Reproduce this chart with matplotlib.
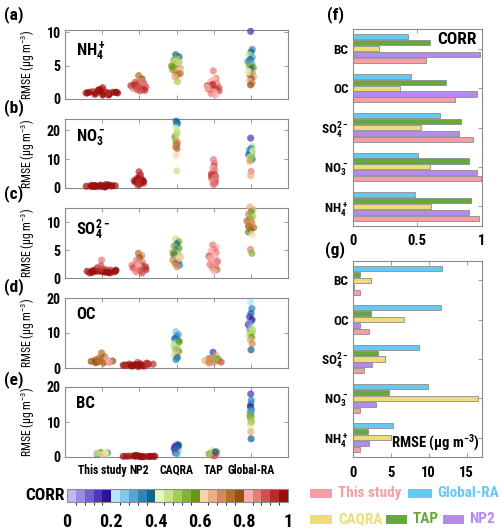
import numpy as np
import matplotlib
matplotlib.use('Agg')
import matplotlib.pyplot as plt
from matplotlib import font_manager as fm
from matplotlib.colors import ListedColormap, BoundaryNorm
from matplotlib.patches import Rectangle
import matplotlib.cm as cm

names = {f.name for f in fm.fontManager.ttflist}
FONT = 'DejaVu Sans'
for cand in ['Liberation Sans Narrow', 'Roboto Condensed', 'Open Sans Condensed',
             'DejaVu Sans Condensed', 'Roboto', 'Liberation Sans']:
    if cand in names:
        FONT = cand
        break
plt.rcParams['font.family'] = [FONT, 'DejaVu Sans']
plt.rcParams['font.weight'] = 'bold'

# ---------------- data ----------------
models = ['This study', 'NP2', 'CAQRA', 'TAP', 'Global-RA']

nh4_rmse = {
    'This study': [0.9, 1.0, 0.8, 1.1, 0.7, 1.2, 0.9, 1.0, 1.3, 0.6, 1.5, 1.0, 0.8, 1.1, 0.9, 1.7, 0.7, 1.0, 1.2, 0.9, 0.8, 1.4, 1.0, 0.6],
    'NP2': [3.5, 3.0, 2.7, 2.5, 2.3, 2.2, 2.0, 2.0, 1.9, 1.8, 1.7, 1.6, 1.5, 1.4, 1.3, 1.2, 2.1, 2.4, 1.8],
    'CAQRA': [6.6, 6.3, 6.0, 5.8, 5.5, 5.2, 5.0, 4.8, 4.7, 4.6, 4.5, 4.4, 4.2, 4.0, 3.8, 3.6, 3.3, 2.6, 5.6, 4.9],
    'TAP': [4.2, 3.1, 2.9, 2.6, 2.4, 2.2, 2.0, 1.9, 1.8, 1.7, 1.6, 1.5, 1.4, 1.3, 1.2, 1.0, 0.8, 0.6, 2.1, 1.7],
    'Global-RA': [10.1, 7.4, 7.0, 6.6, 6.2, 5.9, 5.6, 5.3, 5.0, 4.7, 4.5, 4.2, 3.9, 3.6, 3.3, 3.0, 2.7, 2.4, 2.1, 4.0],
}
nh4_corr = {
    'This study': [0.97, 0.98, 0.96, 0.95, 0.99, 0.97, 0.93, 0.98, 0.96, 0.97, 0.92, 0.99, 0.98, 0.95, 0.97, 0.94, 0.96, 0.98, 0.97, 0.99, 0.93, 0.96, 0.97, 0.98],
    'NP2': [0.72, 0.76, 0.70, 0.90, 0.93, 0.88, 0.92, 0.85, 0.94, 0.90, 0.91, 0.87, 0.93, 0.89, 0.92, 0.88, 0.95, 0.86, 0.91],
    'CAQRA': [0.36, 0.38, 0.48, 0.55, 0.50, 0.58, 0.62, 0.45, 0.57, 0.66, 0.70, 0.55, 0.60, 0.68, 0.72, 0.74, 0.66, 0.48, 0.44, 0.59],
    'TAP': [0.84, 0.86, 0.62, 0.83, 0.85, 0.88, 0.90, 0.82, 0.87, 0.91, 0.84, 0.89, 0.93, 0.86, 0.88, 0.82, 0.85, 0.83, 0.92, 0.81],
    'Global-RA': [0.15, 0.33, 0.38, 0.45, 0.30, 0.36, 0.34, 0.28, 0.52, 0.58, 0.37, 0.62, 0.70, 0.74, 0.66, 0.78, 0.82, 0.69, 0.76, 0.42],
}

no3_rmse = {
    'This study': [0.6, 0.8, 0.5, 0.9, 0.7, 1.0, 0.6, 0.4, 0.8, 1.2, 0.7, 0.5, 0.9, 0.6, 1.1, 0.7, 0.5, 0.8, 0.6, 0.9, 0.4, 0.7],
    'NP2': [5.6, 4.6, 3.8, 3.3, 3.0, 2.8, 2.6, 2.5, 2.4, 2.3, 2.2, 2.1, 2.0, 1.9, 1.7, 1.4, 0.9, 2.5, 2.2],
    'CAQRA': [23.1, 22.4, 21.8, 20.7, 19.6, 18.4, 17.6, 16.7, 16.0, 15.5, 14.9, 14.2, 13.6, 11.3, 5.9, 18.8],
    'TAP': [9.8, 8.5, 7.6, 6.8, 6.2, 5.6, 5.2, 4.8, 4.4, 4.0, 3.7, 3.4, 3.1, 2.8, 2.5, 2.2, 1.9, 1.6, 1.2, 4.6, 3.6],
    'Global-RA': [17.2, 14.3, 13.6, 13.0, 12.5, 12.0, 11.5, 11.0, 10.5, 10.0, 9.6, 9.2, 5.7, 4.2, 12.8, 10.8],
}
no3_corr = {
    'This study': [0.97, 0.98, 0.99, 0.96, 0.98, 0.97, 0.99, 0.98, 0.96, 0.95, 0.98, 0.99, 0.97, 0.98, 0.96, 0.99, 0.98, 0.97, 0.99, 0.96, 0.98, 0.97],
    'NP2': [0.92, 0.95, 0.93, 0.96, 0.94, 0.97, 0.95, 0.93, 0.96, 0.98, 0.94, 0.97, 0.95, 0.96, 0.93, 0.97, 0.94, 0.98, 0.95],
    'CAQRA': [0.36, 0.38, 0.33, 0.42, 0.46, 0.50, 0.58, 0.62, 0.55, 0.70, 0.72, 0.68, 0.74, 0.60, 0.47, 0.44],
    'TAP': [0.86, 0.84, 0.88, 0.83, 0.87, 0.85, 0.82, 0.89, 0.84, 0.90, 0.86, 0.88, 0.92, 0.85, 0.87, 0.91, 0.83, 0.89, 0.86, 0.93, 0.84],
    'Global-RA': [0.15, 0.44, 0.35, 0.32, 0.38, 0.28, 0.36, 0.55, 0.62, 0.34, 0.58, 0.66, 0.85, 0.64, 0.42, 0.50],
}

so4_rmse = {
    'This study': [1.2, 1.3, 1.1, 1.0, 1.4, 1.2, 0.9, 1.5, 1.3, 1.1, 1.2, 1.8, 1.0, 3.2, 1.4, 1.1, 1.3, 0.9, 1.6, 1.2, 1.0, 2.2],
    'NP2': [4.4, 4.0, 3.6, 3.2, 2.8, 2.5, 2.3, 2.2, 2.1, 2.0, 1.9, 1.8, 1.7, 1.6, 1.5, 1.3, 1.1, 0.9, 2.4],
    'CAQRA': [7.0, 6.5, 6.1, 5.7, 5.3, 5.0, 4.7, 4.4, 4.1, 3.8, 3.5, 3.2, 2.9, 2.6, 2.3, 2.0, 4.5, 3.6],
    'TAP': [5.9, 5.5, 5.1, 4.8, 4.5, 4.2, 3.9, 3.6, 3.3, 3.0, 2.7, 2.4, 2.1, 1.8, 1.5, 1.2, 3.5, 2.8],
    'Global-RA': [12.7, 12.2, 11.8, 11.4, 11.0, 10.6, 10.2, 9.8, 9.4, 9.0, 8.6, 8.2, 7.8, 5.1, 4.4, 10.0, 9.2],
}
so4_corr = {
    'This study': [0.97, 0.98, 0.96, 0.99, 0.95, 0.97, 0.98, 0.93, 0.96, 0.99, 0.97, 0.94, 0.98, 0.84, 0.96, 0.99, 0.97, 0.98, 0.92, 0.97, 0.99, 0.90],
    'NP2': [0.72, 0.68, 0.76, 0.86, 0.84, 0.90, 0.87, 0.92, 0.85, 0.94, 0.83, 0.89, 0.91, 0.86, 0.93, 0.88, 0.84, 0.90, 0.82],
    'CAQRA': [0.47, 0.52, 0.38, 0.55, 0.58, 0.34, 0.62, 0.50, 0.36, 0.66, 0.45, 0.70, 0.74, 0.72, 0.35, 0.68, 0.56, 0.60],
    'TAP': [0.84, 0.82, 0.86, 0.81, 0.85, 0.83, 0.88, 0.82, 0.84, 0.86, 0.81, 0.87, 0.83, 0.85, 0.74, 0.82, 0.80, 0.84],
    'Global-RA': [0.64, 0.66, 0.58, 0.70, 0.48, 0.52, 0.72, 0.65, 0.68, 0.74, 0.76, 0.56, 0.62, 0.86, 0.54, 0.71, 0.73],
}

oc_rmse = {
    'This study': [4.3, 3.2, 2.6, 2.3, 2.1, 2.0, 1.9, 1.8, 1.7, 1.6, 2.2, 1.5, 2.4, 1.9, 2.0, 1.4, 2.8, 1.8, 2.1],
    'NP2': [1.6, 1.4, 1.2, 1.1, 1.0, 0.9, 0.8, 0.7, 0.6, 1.3, 1.0, 0.8, 0.5, 0.9, 1.1, 0.7, 0.6, 1.2, 0.4, 0.8],
    'CAQRA': [10.4, 9.6, 9.0, 8.4, 7.8, 7.2, 6.6, 6.0, 5.4, 4.8, 4.2, 3.6, 3.0, 2.4, 7.5, 5.7],
    'TAP': [4.5, 3.5, 3.0, 2.7, 2.5, 2.3, 2.1, 2.0, 1.9, 1.8, 1.6, 1.4, 2.2, 2.6, 1.7],
    'Global-RA': [18.8, 17.0, 15.6, 14.6, 13.8, 13.0, 12.4, 11.8, 11.2, 10.6, 10.0, 9.4, 8.8, 8.0, 7.0, 5.2, 12.8, 11.0],
}
oc_corr = {
    'This study': [0.74, 0.72, 0.76, 0.78, 0.70, 0.75, 0.77, 0.73, 0.79, 0.71, 0.66, 0.76, 0.82, 0.74, 0.78, 0.72, 0.75, 0.80, 0.73],
    'NP2': [0.88, 0.92, 0.95, 0.97, 0.94, 0.98, 0.96, 0.93, 0.97, 0.90, 0.96, 0.99, 0.95, 0.97, 0.94, 0.98, 0.96, 0.93, 0.97, 0.95],
    'CAQRA': [0.24, 0.28, 0.32, 0.36, 0.34, 0.26, 0.44, 0.42, 0.50, 0.56, 0.66, 0.46, 0.38, 0.34, 0.58, 0.48],
    'TAP': [0.15, 0.64, 0.52, 0.72, 0.58, 0.82, 0.66, 0.48, 0.84, 0.62, 0.86, 0.70, 0.55, 0.68, 0.88],
    'Global-RA': [0.22, 0.34, 0.38, 0.12, 0.18, 0.36, 0.16, 0.40, 0.30, 0.50, 0.55, 0.46, 0.58, 0.66, 0.70, 0.38, 0.06, 0.44],
}

bc_rmse = {
    'This study': [1.4, 1.2, 1.0, 0.9, 0.8, 1.1, 0.7, 1.0, 0.9, 1.3, 0.8, 1.1],
    'NP2': [0.3, 0.2, 0.1, 0.25, 0.15, 0.35, 0.2, 0.1, 0.3, 0.15, 0.25, 0.2, 0.1, 0.3, 0.2, 0.15, 0.4, 0.2],
    'CAQRA': [3.9, 3.5, 3.2, 3.0, 2.8, 2.6, 2.4, 2.2, 2.0, 1.8, 1.5, 1.2, 0.9, 2.5, 3.3],
    'TAP': [1.8, 1.5, 1.3, 1.2, 1.1, 1.0, 0.9, 0.8, 0.7, 0.5, 0.3, 1.0, 1.4],
    'Global-RA': [18.0, 16.2, 15.2, 14.4, 13.6, 12.8, 12.2, 11.6, 11.0, 10.4, 9.8, 9.2, 8.4, 7.2, 5.2, 13.2, 11.4, 10.0],
}
bc_corr = {
    'This study': [0.48, 0.36, 0.38, 0.66, 0.44, 0.58, 0.34, 0.64, 0.52, 0.42, 0.60, 0.46],
    'NP2': [0.98, 0.97, 0.99, 0.98, 0.97, 0.99, 0.98, 0.97, 0.99, 0.98, 0.97, 0.99, 0.98, 0.97, 0.99, 0.98, 0.97, 0.98],
    'CAQRA': [0.22, 0.12, 0.16, 0.14, 0.18, 0.10, 0.14, 0.20, 0.32, 0.24, 0.44, 0.36, 0.28, 0.15, 0.38],
    'TAP': [0.44, 0.52, 0.36, 0.62, 0.86, 0.40, 0.56, 0.90, 0.66, 0.84, 0.88, 0.48, 0.38],
    'Global-RA': [0.12, 0.32, 0.34, 0.16, 0.38, 0.14, 0.54, 0.58, 0.50, 0.46, 0.44, 0.60, 0.42, 0.66, 0.36, 0.28, 0.55, 0.48],
}

# bar panels (bottom to top: NH4, NO3, SO4, OC, BC)
bar_labels = ['NH$\\mathregular{_4^+}$', 'NO$\\mathregular{_3^-}$', 'SO$\\mathregular{_4^{2-}}$', 'OC', 'BC']
corr_this = [0.98, 0.995, 0.935, 0.795, 0.57]
corr_np2 = [0.90, 0.96, 0.826, 0.96, 0.99]
corr_caqra = [0.61, 0.60, 0.53, 0.37, 0.20]
corr_tap = [0.92, 0.90, 0.84, 0.72, 0.60]
corr_global = [0.48, 0.51, 0.68, 0.45, 0.43]
rmse_this = [1.0, 0.9, 1.5, 2.15, 0.9]
rmse_np2 = [2.2, 3.1, 2.5, 0.9, 0.13]
rmse_caqra = [5.0, 16.5, 4.2, 6.7, 2.4]
rmse_tap = [2.06, 4.74, 3.33, 2.37, 0.96]
rmse_global = [5.26, 9.87, 8.68, 11.6, 11.8]

cb_ticks = [0, 0.2, 0.4, 0.6, 0.8, 1]
cb_ticklabels = ['0', '0.2', '0.4', '0.6', '0.8', '1']

# ---------------- styles ----------------
cmap_colors = [
    '#c3b6f4', '#9c8ae4', '#7360d0', '#4d36b8', '#2c1198',
    '#b4e6fa', '#86c6e8', '#56a6d0', '#2e86b6', '#0e6690',
    '#e4fab4', '#c4e488', '#a4cc5c', '#84b232', '#649810',
    '#fcd4ac', '#e8b084', '#d08e56', '#b46e2e', '#965010',
    '#fcaeae', '#e87c7c', '#d05050', '#b82c2c', '#9a0e0e',
]
cmap = ListedColormap(cmap_colors)
norm = BoundaryNorm(np.linspace(0, 1, 26), cmap.N)

bar_colors = {'This study': '#f59ea7', 'NP2': '#b48af0', 'CAQRA': '#eedc7a',
              'TAP': '#67a83b', 'Global-RA': '#66c9f0'}
SP = '#8a8a8a'

W, H = 500, 532
fig = plt.figure(figsize=(W / 100, H / 100), dpi=100)


def fr(x0, y0, x1, y1):
    return [x0 / W, 1 - y1 / H, (x1 - x0) / W, (y1 - y0) / H]


def style_ax(ax):
    for s in ax.spines.values():
        s.set_color(SP)
        s.set_linewidth(0.8)
    ax.tick_params(direction='in', top=True, right=True, length=3, width=0.6,
                   color=SP, labelcolor='black')


panels = [
    (nh4_rmse, nh4_corr, 'NH$\\mathregular{_4^+}$', 10.3, [0, 5, 10], '(a)', 30, 99, 15),
    (no3_rmse, no3_corr, 'NO$\\mathregular{_3^-}$', 23.8, [0, 10, 20], '(b)', 119, 188, 108),
    (so4_rmse, so4_corr, 'SO$\\mathregular{_4^{2-}}$', 12.5, [0, 5, 10], '(c)', 208, 278, 194),
    (oc_rmse, oc_corr, 'OC', 20, [0, 10, 20], '(d)', 298, 368, 287),
    (bc_rmse, bc_corr, 'BC', 20, [0, 10, 20], '(e)', 387, 457, 380),
]


def density_offsets(groups):
    dens = []
    for y in groups:
        y = np.asarray(y, float)
        n = len(y)
        h = max(1.06 * np.std(y) * n ** (-0.2), 1e-3)
        d = np.exp(-0.5 * ((y[:, None] - y[None, :]) / h) ** 2).sum(1) / (n * h)
        dens.append(d)
    m = max(d.max() for d in dens)
    offs = []
    for d in dens:
        n = len(d)
        u = 2 * ((np.arange(n) * 0.6180339887 + 0.31) % 1) - 1
        offs.append(0.45 * (d / m) ** 0.8 * u)
    return offs


for i, (rm, co, tag, ytop, yt, plab, y0, y1, ly) in enumerate(panels):
    ax = fig.add_axes(fr(65, y0, 288, y1))
    style_ax(ax)
    ax.set_xlim(0, 6)
    ax.set_ylim(0, ytop)
    groups = [rm[m] for m in models]
    offs = density_offsets(groups)
    for k, m in enumerate(models):
        x = (k + 1) + offs[k]
        ax.scatter(x, rm[m], c=co[m], cmap=cmap, norm=norm, s=26, alpha=0.72,
                   linewidths=0, clip_on=False, zorder=3)
    ax.set_yticks(yt)
    ax.set_yticklabels([str(v) for v in yt], fontsize=10)
    ax.set_xticks(range(1, 6))
    if i == 4:
        ax.set_xticklabels(models, fontsize=8.5)
        ax.tick_params(axis='x', pad=5)
    else:
        ax.set_xticklabels([])
    ax.tick_params(axis='y', pad=3)
    ax.set_ylabel('RMSE (μg m$\\mathregular{^{-3}}$)', fontsize=8.5)
    ax.yaxis.set_label_coords(-0.125, 0.5)
    ax.text(0.05, 0.87, tag, transform=ax.transAxes, fontsize=12,
            ha='left', va='top', fontweight='bold')
    fig.text(14 / W, 1 - ly / H, plab, fontsize=12.5, fontweight='bold',
             ha='center', va='center')

# colorbar
cax = fig.add_axes(fr(67, 489, 288, 502))
sm = cm.ScalarMappable(norm=norm, cmap=cmap)
cb = fig.colorbar(sm, cax=cax, orientation='horizontal', ticks=cb_ticks)
cb.ax.set_xticklabels(cb_ticklabels, fontsize=13)
cb.ax.tick_params(length=0, pad=8)
cb.outline.set_edgecolor(SP)
cb.outline.set_linewidth(0.8)
fig.text(45 / W, 1 - 495 / H, 'CORR', fontsize=12.5, fontweight='bold',
         ha='center', va='center')

# bar panels
order = [('Global-RA', 0.30), ('TAP', 0.15), ('CAQRA', 0.0), ('NP2', -0.15), ('This study', -0.30)]
corr_vals = {'This study': corr_this, 'NP2': corr_np2, 'CAQRA': corr_caqra,
             'TAP': corr_tap, 'Global-RA': corr_global}
rmse_vals = {'This study': rmse_this, 'NP2': rmse_np2, 'CAQRA': rmse_caqra,
             'TAP': rmse_tap, 'Global-RA': rmse_global}
ypos = np.arange(len(bar_labels))

for vals, rect, xlim, xt, xtl, title, tsize, tpos, plab, ply in [
    (corr_vals, fr(352.7, 29, 481.7, 226), (0, 1), [0, 0.5, 1], ['0', '0.5', '1'],
     'CORR', 12.5, (0.965, 0.945), '(f)', 15),
    (rmse_vals, fr(352.7, 260.7, 481.7, 457.3), (0, 17), [0, 5, 10, 15], ['0', '5', '10', '15'],
     'RMSE (μg m$\\mathregular{^{-3}}$)', 10.5, (0.985, 0.075), '(g)', 250),
]:
    ax = fig.add_axes(rect)
    style_ax(ax)
    for m, off in order:
        ax.barh(ypos + off, vals[m], height=0.13, color=bar_colors[m],
                edgecolor='#8c8c8c', linewidth=0.6, zorder=2)
    ax.set_xlim(*xlim)
    ax.set_ylim(-0.5, 4.5)
    ax.set_xticks(xt)
    ax.set_xticklabels(xtl, fontsize=10.5)
    ax.set_yticks(ypos)
    ax.set_yticklabels(bar_labels, fontsize=9.5)
    ax.tick_params(axis='x', pad=6)
    ax.tick_params(axis='y', pad=3)
    ax.text(tpos[0], tpos[1], title, transform=ax.transAxes, fontsize=tsize,
            ha='right', va='center', fontweight='bold')
    fig.text(335 / W, 1 - ply / H, plab, fontsize=12.5, fontweight='bold',
             ha='center', va='center')

# legend
legend_items = [('This study', 310, 332, 338, 493), ('Global-RA', 408, 432, 437, 493),
                ('CAQRA', 310, 332, 338, 519), ('TAP', 386, 407, 413, 519),
                ('NP2', 443, 464, 469, 519)]
for name, px0, px1, tx, yc in legend_items:
    fig.add_artist(Rectangle((px0 / W, 1 - (yc + 4.5) / H), (px1 - px0) / W, 9 / H,
                             transform=fig.transFigure, facecolor=bar_colors[name],
                             edgecolor='none'))
    fig.text(tx / W, 1 - yc / H, name, color=bar_colors[name], fontsize=11,
             fontweight='bold', ha='left', va='center')

fig.savefig('out.png', dpi=100)
